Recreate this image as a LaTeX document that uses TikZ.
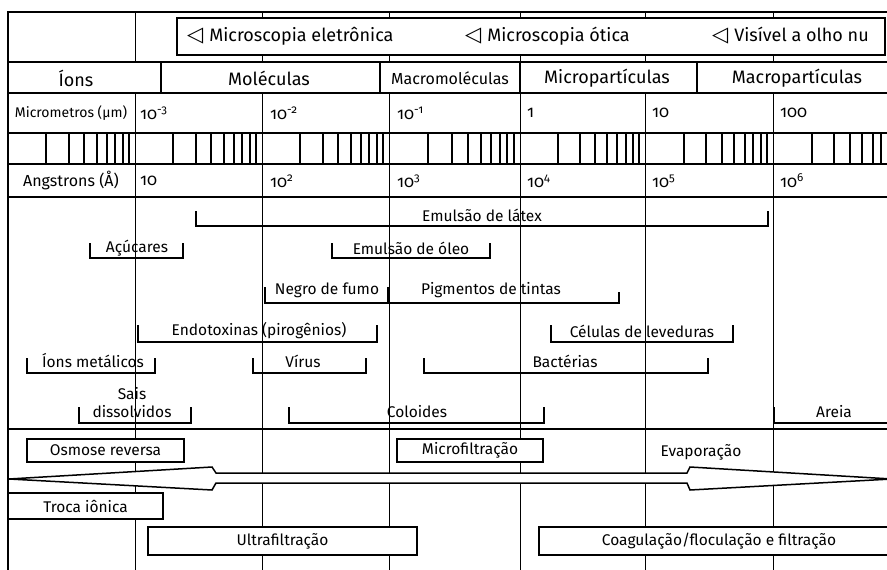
\documentclass[tikz,border=0pt]{standalone}
\usepackage{fontspec}
\setmainfont{Fira Sans}[Numbers=OldStyle]
\newfontfamily\simbolos{DejaVu Sans}
\usetikzlibrary{positioning}

\begin{document}
\begin{tikzpicture}[
    x=1pt, y=-1pt,
    grade/.style={line width=1pt},
    linha/.style={line width=2pt},
    linha_grossa/.style={line width=2.6pt},
    colchete/.style={line width=2.5pt},
    cabecalho/.style={font=\fontsize{18}{20}\selectfont, inner sep=0pt},
    rotulo/.style={font=\fontsize{15.5}{18}\selectfont, inner sep=0pt, align=center},
    escala/.style={font=\fontsize{16.5}{18}\selectfont, anchor=west, inner sep=0pt},
    caixa/.style={
        draw,
        line width=2.5pt,
        fill=white, % fundo branco cobre a grade
        font=\fontsize{15.5}{18}\selectfont,
        inner sep=0pt,
    },
]
\useasboundingbox (0,0) rectangle (887,570);

% Grade vertical (uma linha por década)
\foreach \x in {135,262,389,520,645,773}
    \draw[grade] (\x,12) -- (\x,570);

% Faixa das microscopias
\draw[line width=2.5pt, fill=white] (177,18) rectangle (885,55);
\node[cabecalho, anchor=west] (eletronica) at (187,36) {{\simbolos\fontsize{21}{21}\selectfont ◁}\hspace{6pt}Microscopia eletrônica};
\node[cabecalho, anchor=west] (otica) at (465,36) {{\simbolos\fontsize{21}{21}\selectfont ◁}\hspace{6pt}Microscopia ótica};
\node[cabecalho, anchor=west] (olhonu) at (712,36) {{\simbolos\fontsize{21}{21}\selectfont ◁}\hspace{6pt}Visível a olho nu};

% Classes de partículas
\fill[white] (8,62) rectangle (887,93);
\foreach \x in {161,380,520,697}
    \draw[linha] (\x,62) -- (\x,93);
\node[cabecalho] (ions) at (76,78) {Íons};
\node[cabecalho] (moleculas) at (269,78) {Moléculas};
\node[cabecalho, font=\fontsize{16}{18}\selectfont] (macromoleculas) at (450,78) {Macromoléculas};
\node[cabecalho] (microparticulas) at (607,78) {Micropartículas};
\node[cabecalho] (macroparticulas) at (797,78) {Macropartículas};

% Escala em micrometros
\node[escala, anchor=center, font=\fontsize{14}{16}\selectfont] (micrometros) at (71,113) {Micrometros (µm)};
\node[escala] (mu3) at (140,113) {10\textsuperscript{-3}};
\node[escala] (mu2) at (270,113) {10\textsuperscript{-2}};
\node[escala] (mu1) at (397,113) {10\textsuperscript{-1}};
\node[escala] (mu0) at (527,113) {1};
\node[escala] (mu10) at (652,113) {10};
\node[escala] (mu100) at (780,113) {100};

% Marcas logarítmicas
\foreach \d/\w in {8/127,135/127,262/127,389/131,520/125,645/128,773/128}
    \foreach \i in {2,...,9}
        \draw[linha] ({\d+\w*log10(\i)},133) -- ++(0,31);

% Escala em angstrons
\node[escala, anchor=center, font=\fontsize{16}{18}\selectfont] (angstrons) at (71,181) {Angstrons (Å)};
\node[escala] (a1) at (140,181) {10};
\node[escala] (a2) at (270,181) {10\textsuperscript{2}};
\node[escala] (a3) at (397,181) {10\textsuperscript{3}};
\node[escala] (a4) at (527,181) {10\textsuperscript{4}};
\node[escala] (a5) at (652,181) {10\textsuperscript{5}};
\node[escala] (a6) at (780,181) {10\textsuperscript{6}};

% Linhas horizontais do quadro
\draw[linha] (8,12) -- (887,12);
\draw[linha] (8,62) -- (887,62);
\draw[linha] (8,93) -- (887,93);
\draw[linha] (8,133) -- (887,133);
\draw[linha] (8,164) -- (887,164);
\draw[linha_grossa] (8,197) -- (887,197);
\draw[linha_grossa] (8,429) -- (887,429);
\draw[linha] (8,11) -- (8,570);

% Faixas de tamanho
\draw[colchete] (196,211) |- (768,226) -- (768,211);
\node[rotulo] (latex) at (482,215) {Emulsão de látex};
\draw[colchete] (90,243) |- (183,258) -- (183,243);
\node[rotulo] (acucares) at (137,248) {Açúcares};
\draw[colchete] (332,243) |- (490,258) -- (490,243);
\node[rotulo] (oleo) at (411,248) {Emulsão de óleo};
\draw[colchete] (265,287) |- (388,303) -- (388,287);
\node[rotulo] (negro) at (327,290) {Negro de fumo};
\draw[colchete] (388,303) -| (619,292);
\node[rotulo] (pigmentos) at (491,290) {Pigmentos de tintas};
\draw[colchete] (138,325) |- (377,342) -- (377,325);
\node[rotulo] (endotoxinas) at (259,331) {Endotoxinas (pirogênios)};
\draw[colchete] (551,325) |- (733,342) -- (733,325);
\node[rotulo] (leveduras) at (642,331) {Células de leveduras};
\draw[colchete] (27,358) |- (155,373) -- (155,358);
\node[rotulo] (metalicos) at (93,361) {Íons metálicos};
\draw[colchete] (253,358) |- (366,373) -- (366,358);
\node[rotulo] (virus) at (303,361) {Vírus};
\draw[colchete] (424,358) |- (708,373) -- (708,358);
\node[rotulo] (bacterias) at (565,361) {Bactérias};
\draw[colchete] (79,407) |- (191,423) -- (191,407);
\node[rotulo] (sais) at (132,403) {Sais\\dissolvidos};
\draw[colchete] (289,407) |- (544,423) -- (544,407);
\node[rotulo] (coloides) at (417,412) {Coloides};
\draw[colchete] (774,407) |- (892,423);
\node[rotulo] (areia) at (834,412) {Areia};

% Processos de separação
\node[caixa, minimum width=157, minimum height=23] (osmose) at (105.5,450.5) {Osmose reversa};
\node[caixa, minimum width=146, minimum height=23] (microfiltracao) at (470,450.5) {Microfiltração};
\node[rotulo] (evaporacao) at (701,452) {Evaporação};
\draw[line width=1.5pt, fill=white] (9,479) -- (212,467) -- (216,473) -- (687,473) -- (690,467)
    -- (892,479) -- (690,490) -- (687,483) -- (216,483) -- (212,490) -- cycle;
\node[caixa, minimum width=155, minimum height=26] (troca) at (85.5,506) {Troca iônica};
\node[caixa, minimum width=269, minimum height=28] (ultrafiltracao) at (282.5,541) {Ultrafiltração};
\node[caixa, minimum width=360, minimum height=28] (coagulacao) at (719,541) {Coagulação/floculação e filtração};

\end{tikzpicture}
\end{document}
